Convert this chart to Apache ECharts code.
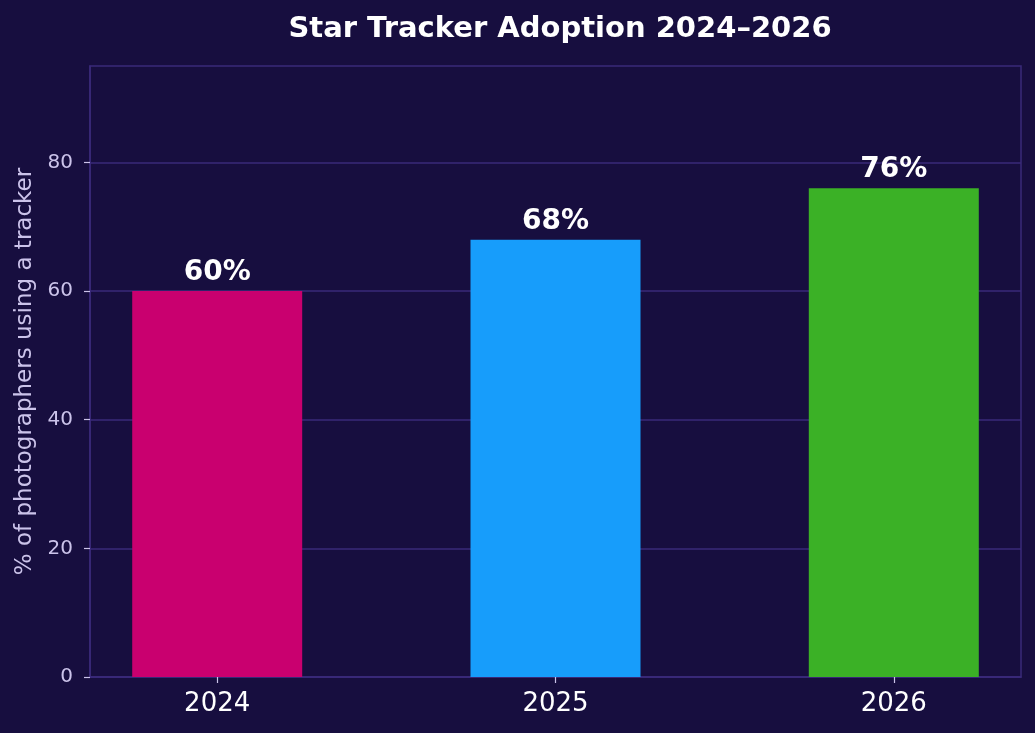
<!DOCTYPE html>
<html>
<head>
<meta charset="utf-8">
<script src="https://cdn.jsdelivr.net/npm/echarts@6/dist/echarts.min.js"></script>
<style>
  html, body { margin: 0; padding: 0; background: #170e3f; }
  #chart { width: 1035px; height: 733px; }
</style>
</head>
<body>
<div id="chart"></div>
<script>
// data
const years = ['2024', '2025', '2026'];
const adoption = [60, 68, 76];
const barColors = ['#c9006f', '#179dfb', '#3bb126'];
const yTicks = [0, 20, 40, 60, 80];

const chart = echarts.init(document.getElementById('chart'), null, { renderer: 'canvas' });

const lavender = '#cbc3ea';
const frame = '#3a2a7a';

const option = {
  backgroundColor: '#170e3f',
  animation: false,
  title: {
    text: 'Star Tracker Adoption 2024–2026',
    left: 555,
    top: 10,
    textAlign: 'center',
    textStyle: {
      color: '#ffffff',
      fontFamily: 'DejaVu Sans',
      fontWeight: 'bold',
      fontSize: 29
    }
  },
  grid: {
    left: 90,
    right: 14,
    top: 66,
    bottom: 56,
    show: true,
    borderColor: frame,
    borderWidth: 1.5,
    containLabel: false
  },
  xAxis: {
    type: 'value',
    min: -0.376,
    max: 2.376,
    splitLine: { show: false },
    axisLine: { show: true, onZero: false, lineStyle: { color: frame, width: 1.5 } },
    axisTick: {
      show: true,
      customValues: years.map((_, i) => i),
      length: 6,
      lineStyle: { color: lavender, width: 1.2 }
    },
    axisLabel: {
      customValues: years.map((_, i) => i),
      formatter: v => years[Math.round(v)] || '',
      color: '#ffffff',
      fontFamily: 'DejaVu Sans',
      fontSize: 26,
      margin: 14
    }
  },
  yAxis: {
    type: 'value',
    min: 0,
    max: 95,
    name: '% of photographers using a tracker',
    nameLocation: 'middle',
    nameRotate: 90,
    nameGap: 52,
    nameTextStyle: {
      color: lavender,
      fontFamily: 'DejaVu Sans',
      fontSize: 23
    },
    axisLine: { show: true, onZero: false, lineStyle: { color: frame, width: 1.5 } },
    axisTick: {
      show: true,
      customValues: yTicks,
      length: 6,
      lineStyle: { color: lavender, width: 1.2 }
    },
    axisLabel: {
      customValues: yTicks,
      color: lavender,
      fontFamily: 'DejaVu Sans',
      fontSize: 20,
      margin: 17
    },
    splitLine: {
      show: true,
      customValues: yTicks,
      lineStyle: { color: frame, width: 1.5 }
    }
  },
  series: [{
    type: 'bar',
    barWidth: 170,
    data: adoption.map((v, i) => ({
      value: [i, v],
      itemStyle: { color: barColors[i] }
    })),
    label: {
      show: true,
      position: 'top',
      distance: 4,
      formatter: p => p.value[1] + '%',
      color: '#ffffff',
      fontFamily: 'DejaVu Sans',
      fontWeight: 'bold',
      fontSize: 28
    },
    z: 3
  }]
};

chart.setOption(option);
</script>
</body>
</html>
